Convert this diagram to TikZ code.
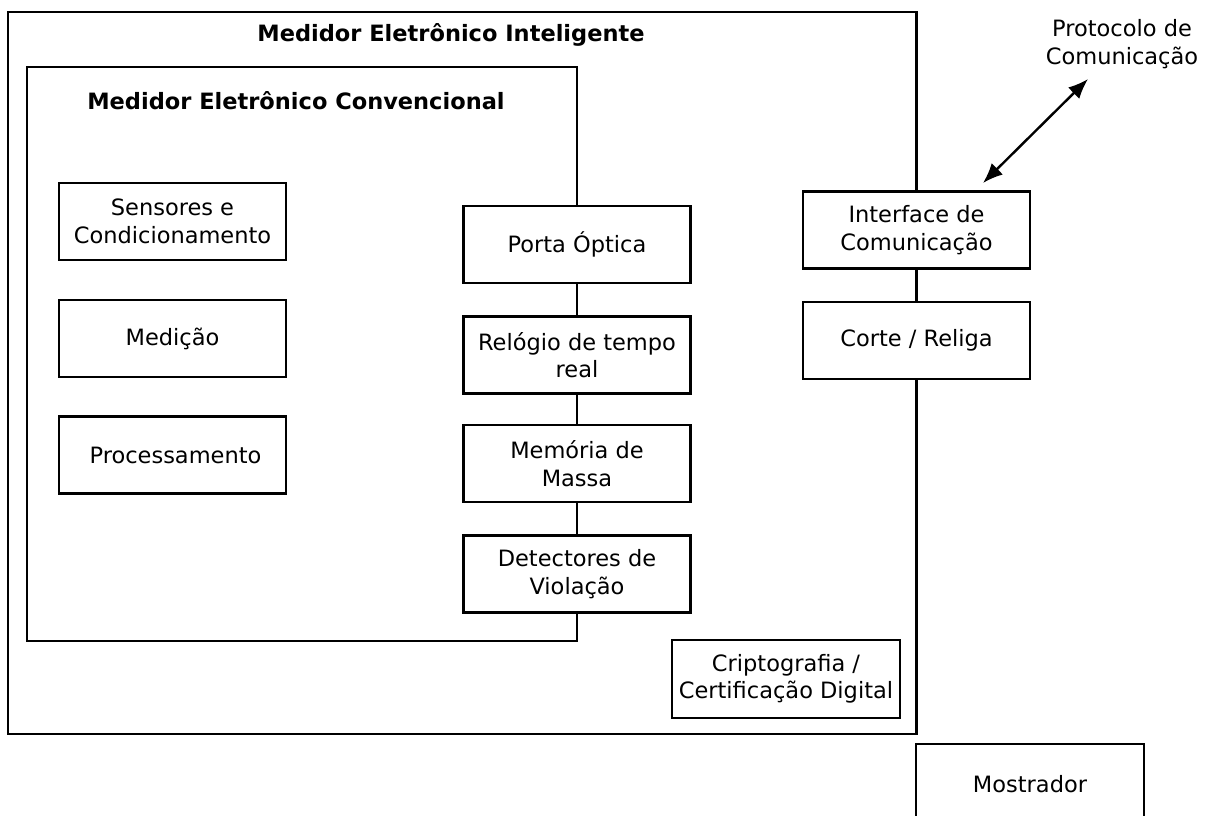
\documentclass[tikz,border=0pt]{standalone}
\usepackage{fontspec}
\setmainfont{DejaVu Sans}
\usetikzlibrary{arrows.meta}
\begin{document}
\begin{tikzpicture}[x=1pt,y=-1pt,
  every node/.style={font=\fontsize{22.5}{27.5}\selectfont},
  block/.style={draw,fill=white,line width=2.8pt,minimum width=227pt,
    minimum height=77pt,align=center,inner sep=0pt},
  frame/.style={line width=2.8pt,line join=miter},
  link/.style={line width=2.8pt},
  title/.style={font=\fontsize{22.5}{27.5}\selectfont\bfseries}]
\useasboundingbox (0,0) rectangle (1210,815);
\fill[white] (0,0) rectangle (1210,815);

% conventional meter blocks
\node[block] (sens) at (172.5,221.5) {Sensores e\\Condicionamento};
\node[block] (med)  at (172.5,338.5) {Medição};
\node[block] (proc) at (172.5,455)   {\hspace{6pt}Processamento};

\node[block] (porta) at (577,244.5) {Porta Óptica};
\node[block] (relog) at (577,355)   {Relógio de tempo\\real};
\node[block] (mem)   at (577,463.5) {Memória de\\Massa};
\node[block] (det)   at (577,574)   {Detectores de\\Violação};

% smart meter blocks
\node[block] (iface)  at (916.5,230)   {Interface de\\Comunicação};
\node[block] (corte)  at (916.5,340.5) {Corte / Religa};
\node[block,minimum width=228pt,minimum height=78pt] (cripto) at (786,679) {Criptografia /\\Certificação Digital};
\node[block,minimum width=228pt,minimum height=80pt] (mostr) at (1030,784) {Mostrador};

% corners of the two enclosures
\coordinate (oTL) at (8,12);
\coordinate (oBL) at (8,734);
\coordinate (oTR) at (iface.north |- oTL);
\coordinate (oBR) at (iface.north |- oBL);
\coordinate (iTL) at (27,67);
\coordinate (iBL) at (27,641);
\coordinate (iTR) at (porta.north |- iTL);
\coordinate (iBR) at (porta.north |- iBL);

% enclosures, whose right edges run through the stacked blocks
\draw[frame] (porta.north) -- (iTR) -- (iTL) -- (iBL) -- (iBR) -- (det.south);
\draw[link] (porta) -- (relog) (relog) -- (mem) (mem) -- (det);
\draw[frame] (iface.north) -- (oTR) -- (oTL) -- (oBL) -- (oBR) -- (corte.south);
\draw[link] (iface) -- (corte);

% titles
\node[title] (tsmart) at (451,35)  {Medidor Eletrônico Inteligente};
\node[title] (tconv)  at (296,101) {Medidor Eletrônico Convencional};

% communication protocol
\node[align=center] (proto) at (1122,44) {Protocolo de\\Comunicação};
\coordinate (pA) at (983,183);
\coordinate (pB) at (1088,79);
\draw[line width=2.4pt,{Latex[length=20pt,width=16pt]}-{Latex[length=20pt,width=16pt]}] (pA) -- (pB);
\end{tikzpicture}
\end{document}
